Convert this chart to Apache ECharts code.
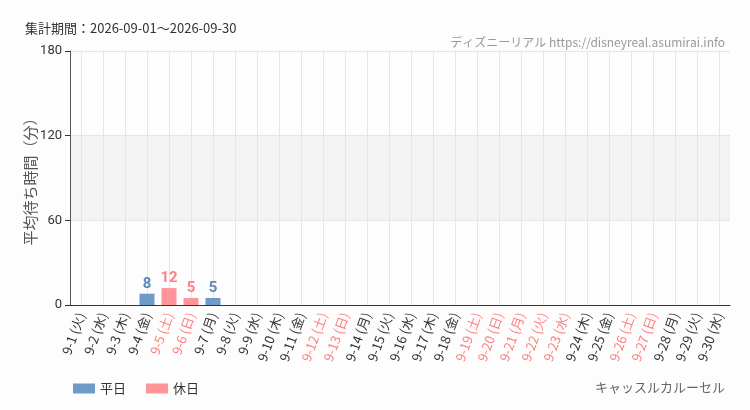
<!DOCTYPE html>
<html><head><meta charset="utf-8">
<script src="https://cdn.jsdelivr.net/npm/echarts@6/dist/echarts.min.js"></script>
<style>html,body{margin:0;padding:0;background:#fcfdfc}#c{width:750px;height:410px}</style>
</head><body><div id="c"></div>
<script>
const categories = ['9-1 (火)','9-2 (水)','9-3 (木)','9-4 (金)','9-5 (土)','9-6 (日)','9-7 (月)','9-8 (火)','9-9 (水)','9-10 (木)','9-11 (金)','9-12 (土)','9-13 (日)','9-14 (月)','9-15 (火)','9-16 (水)','9-17 (木)','9-18 (金)','9-19 (土)','9-20 (日)','9-21 (月)','9-22 (火)','9-23 (水)','9-24 (木)','9-25 (金)','9-26 (土)','9-27 (日)','9-28 (月)','9-29 (火)','9-30 (水)'];
const holidayFlags = [0,0,0,0,1,1,0,0,0,0,0,1,1,0,0,0,0,0,1,1,1,1,1,0,0,1,1,0,0,0];
const weekdayValues = [null,null,null,8,null,null,5,null,null,null,null,null,null,null,null,null,null,null,null,null,null,null,null,null,null,null,null,null,null,null];
const holidayValues = [null,null,null,null,12,5,null,null,null,null,null,null,null,null,null,null,null,null,null,null,null,null,null,null,null,null,null,null,null,null];
const yTicks = [0,60,120,180];

const chart = echarts.init(document.getElementById('c'));
const labelStyle = (color) => ({
  show: true, position: 'top', color: color, fontSize: 15, fontWeight: 'bold',
  fontFamily: 'Roboto', distance: 2,
  formatter: p => (p.value ? p.value : '')
});
chart.setOption({
  backgroundColor: '#fcfdfc',
  animation: false,
  title: [
    {text: '集計期間：2026-09-01～2026-09-30', left: 20, top: 17,
     textStyle: {fontSize: 13, fontWeight: 'normal', color: '#333', fontFamily: 'Noto Sans CJK JP'}},
    {text: 'ディズニーリアル https://disneyreal.asumirai.info', right: 20, top: 31,
     textStyle: {fontSize: 12, fontWeight: 'normal', color: '#999', fontFamily: 'Noto Sans CJK JP'}},
    {text: 'キャッスルカルーセル', right: 20, top: 376,
     textStyle: {fontSize: 13, fontWeight: 'normal', color: '#666', fontFamily: 'Noto Sans CJK JP'}}
  ],
  legend: {
    left: 68, top: 377, itemWidth: 22, itemHeight: 10, itemGap: 20,
    icon: 'rect',
    textStyle: {fontSize: 13, color: '#333', fontFamily: 'Noto Sans CJK JP'},
    data: ['平日','休日']
  },
  grid: {left: 70, right: 20, top: 51, bottom: 105},
  xAxis: {
    type: 'category', data: categories,
    axisLine: {lineStyle: {color: '#333'}},
    axisTick: {alignWithLabel: true, lineStyle: {color: '#333'}},
    splitLine: {show: true, alignWithLabel: true, lineStyle: {color: '#e6e6e6'}},
    axisLabel: {
      rotate: 70, fontSize: 13, interval: 0, margin: 8,
      fontFamily: 'Noto Sans CJK JP',
      color: (v, i) => holidayFlags[i] ? '#ff7f7f' : '#333'
    }
  },
  yAxis: {
    type: 'value', min: 0, max: 180, interval: 60,
    name: '平均待ち時間（分）', nameLocation: 'middle', nameGap: 32, nameMoveOverlap: false,
    nameTextStyle: {fontSize: 15, color: '#555', fontFamily: 'Noto Sans CJK JP'},
    axisLine: {show: true, lineStyle: {color: '#555'}},
    axisTick: {show: true, lineStyle: {color: '#333'}},
    axisLabel: {fontSize: 13, color: '#333', fontFamily: 'Roboto',
      formatter: v => yTicks.includes(v) ? String(v) : ''},
    splitLine: {show: true, lineStyle: {color: '#e6e6e6'}},
    splitArea: {show: true, areaStyle: {color: ['rgba(0,0,0,0)', '#f3f3f3', 'rgba(0,0,0,0)']}}
  },
  series: [
    {name: '平日', type: 'bar', data: weekdayValues, barWidth: 15, barGap: '-100%',
     itemStyle: {color: '#6f9bc8'}, label: labelStyle('#5b88bd')},
    {name: '休日', type: 'bar', data: holidayValues, barWidth: 15,
     itemStyle: {color: '#ff9599'}, label: labelStyle('#ff7f85')}
  ]
});
</script></body></html>
